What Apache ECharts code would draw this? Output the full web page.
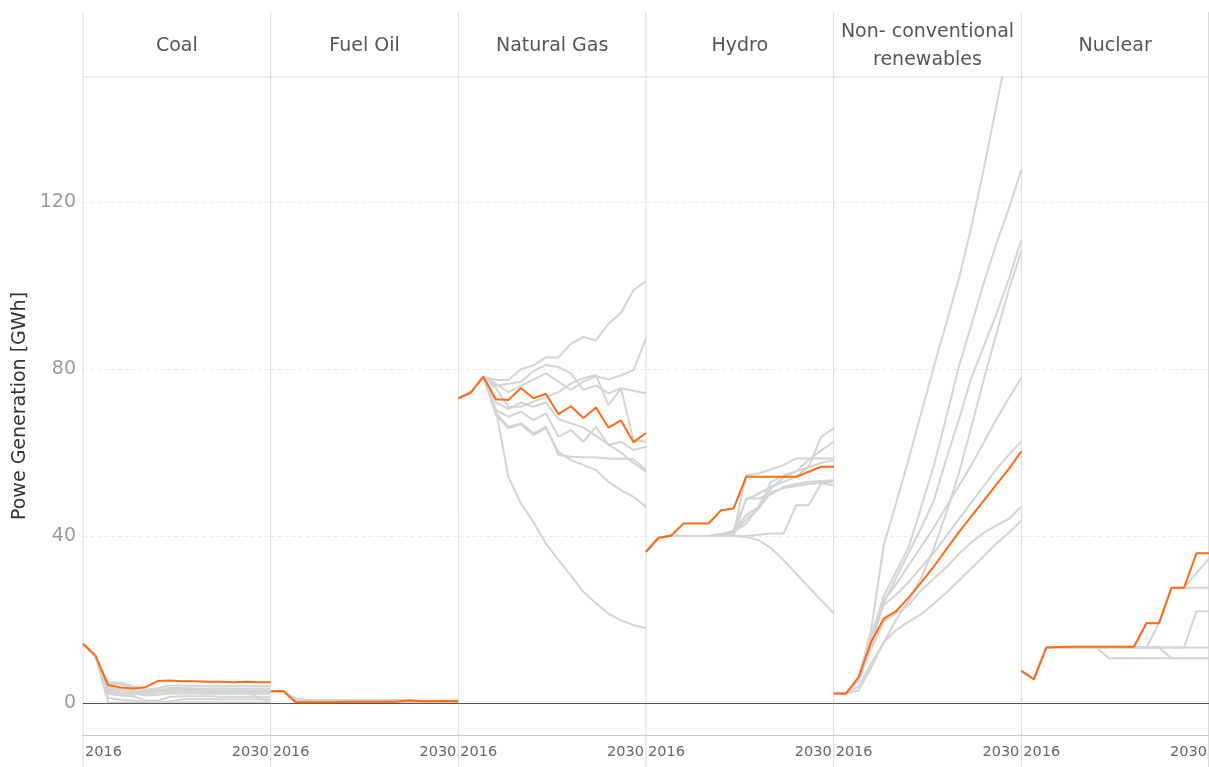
<!DOCTYPE html>
<html>
<head>
<meta charset="utf-8">
<script src="https://cdn.jsdelivr.net/npm/echarts@6/dist/echarts.min.js"></script>
<style>
html, body { margin: 0; padding: 0; background: #fff; }
#main { width: 1209px; height: 767px; }
</style>
</head>
<body>
<div id="main"></div>
<script>
// panel titles and axis labels
var panelNames = ['Coal', 'Fuel Oil', 'Natural Gas', 'Hydro', 'Non- conventional\nrenewables', 'Nuclear'];
var xTickLabels = ['2016', '2030'];
var yTickStep = 40;
var yAxisTitle = 'Powe Generation [GWh]';

// Coal
var coalSelected = [14.2, 11.3, 4.3, 3.7, 3.5, 3.8, 5.3, 5.4, 5.2, 5.2, 5.1, 5.1, 5.0, 5.1, 5.0, 5.0];
var coalScenarios = [
  [14.2, 11.3, 4.9, 4.9, 4.0, 3.2, 3.6, 4.2, 4.2, 4.1, 4.1, 4.0, 4.0, 4.0, 4.0, 4.0],
  [14.2, 11.3, 4.6, 4.5, 3.6, 2.8, 3.1, 3.6, 3.6, 3.5, 3.5, 3.5, 3.4, 3.4, 3.4, 3.4],
  [14.2, 11.3, 3.8, 3.3, 3.0, 2.2, 2.6, 3.0, 3.0, 3.0, 2.9, 2.9, 2.9, 2.9, 2.9, 2.9],
  [14.2, 11.3, 3.0, 2.6, 2.4, 1.8, 2.0, 2.3, 2.3, 2.3, 2.2, 2.2, 2.2, 2.2, 2.2, 2.2],
  [14.2, 11.3, 2.2, 1.8, 1.6, 0.6, 0.6, 1.5, 1.6, 1.6, 1.6, 1.5, 1.5, 1.5, 1.5, 1.5],
  [14.2, 11.3, 1.2, 0.8, 0.6, 0.2, 0.1, 0.4, 0.9, 0.9, 0.9, 0.9, 0.9, 0.9, 0.9, 0.9],
  [14.2, 11.3, 0.2, 0.1, 0.1, 0.1, 0.1, 0.1, 0.2, 0.2, 0.2, 0.2, 0.2, 0.2, 0.2, 0.2],
  [14.2, 11.3, 3.4, 3.1, 2.8, 2.6, 2.8, 3.2, 3.2, 3.1, 3.1, 3.0, 3.0, 3.0, 1.2, 0.2],
  [14.2, 11.3, 2.6, 2.2, 2.0, 2.4, 2.6, 2.7, 2.7, 2.6, 2.6, 2.6, 2.6, 2.6, 2.6, 2.6]
];

// Fuel Oil
var fuelOilSelected = [2.8, 2.9, 0.2, 0.2, 0.2, 0.2, 0.3, 0.3, 0.3, 0.3, 0.3, 0.6, 0.4, 0.4, 0.5, 0.4];
var fuelOilScenarios = [
  [2.8, 2.9, 1.0, 0.7, 0.7, 0.7, 0.7, 0.7, 0.7, 0.7, 0.7, 0.7, 0.6, 0.6, 0.6, 0.6],
  [2.8, 2.9, 0.7, 0.5, 0.5, 0.5, 0.5, 0.5, 0.5, 0.5, 0.5, 0.5, 0.5, 0.5, 0.5, 0.5],
  [2.8, 2.9, 0.4, 0.3, 0.3, 0.3, 0.3, 0.3, 0.3, 0.3, 0.3, 0.3, 0.3, 0.3, 0.3, 0.3],
  [2.8, 2.9, 0.2, 0.1, 0.1, 0.1, 0.1, 0.1, 0.1, 0.1, 0.1, 0.1, 0.1, 0.1, 0.1, 0.1]
];

// Natural Gas
var gasSelected = [73.0, 74.4, 78.2, 72.8, 72.6, 75.5, 73.0, 74.1, 69.2, 71.1, 68.3, 70.8, 66.0, 67.7, 62.5, 64.7];
var gasScenarios = [
  [73.0, 74.4, 78.2, 77.4, 77.4, 80.0, 80.9, 82.8, 82.8, 86.1, 87.7, 86.9, 90.9, 93.5, 98.9, 101.1],
  [73.0, 74.4, 78.2, 76.5, 74.5, 76.0, 77.5, 79.0, 77.0, 75.0, 77.0, 78.3, 77.5, 78.5, 79.8, 87.3],
  [73.0, 74.4, 78.2, 76.0, 76.5, 77.0, 79.5, 81.0, 80.5, 79.0, 75.0, 76.1, 74.2, 75.4, 74.8, 74.2],
  [73.0, 74.4, 78.2, 75.5, 71.0, 71.0, 72.2, 73.3, 74.5, 76.6, 77.8, 78.6, 71.4, 75.4, 63.0, 62.6],
  [73.0, 74.4, 78.2, 70.2, 68.6, 69.8, 67.8, 69.4, 63.8, 65.4, 62.6, 66.2, 61.8, 62.6, 60.6, 61.4],
  [73.0, 74.4, 78.2, 69.5, 66.2, 67.0, 64.6, 66.2, 59.4, 59.0, 58.9, 58.8, 58.6, 58.5, 58.4, 55.8],
  [73.0, 74.4, 78.2, 69.0, 65.8, 66.8, 64.2, 65.8, 60.2, 58.2, 57.0, 55.8, 53.0, 51.0, 49.4, 47.0],
  [73.0, 74.4, 78.2, 72.0, 70.5, 72.0, 71.0, 72.0, 68.0, 67.0, 66.0, 64.0, 62.0, 60.0, 57.5, 55.4],
  [73.0, 74.4, 78.2, 70.2, 54.2, 47.8, 43.4, 38.2, 34.3, 30.6, 26.6, 23.9, 21.4, 19.8, 18.7, 17.9]
];

// Hydro
var hydroSelected = [36.2, 39.6, 40.1, 43.0, 43.0, 43.0, 46.2, 46.6, 54.2, 54.2, 54.2, 54.2, 54.2, 55.4, 56.6, 56.6];
var hydroScenarios = [
  [36.2, 39.6, 40.1, 40.0, 40.0, 40.0, 40.0, 40.0, 39.8, 39.0, 37.1, 34.2, 31.0, 27.8, 24.6, 21.5],
  [36.2, 39.6, 40.1, 40.0, 40.0, 40.0, 40.5, 40.5, 54.5, 55.0, 56.0, 57.0, 58.6, 58.6, 58.6, 58.6],
  [36.2, 39.6, 40.1, 40.0, 40.0, 40.0, 40.2, 41.4, 48.6, 50.2, 51.8, 53.0, 54.2, 56.6, 63.8, 65.8],
  [36.2, 39.6, 40.1, 40.0, 40.0, 40.0, 40.5, 41.0, 43.0, 47.0, 53.0, 54.5, 55.5, 58.2, 60.5, 62.6],
  [36.2, 39.6, 40.1, 40.0, 40.0, 40.0, 40.0, 40.0, 49.0, 49.0, 50.0, 51.8, 52.5, 53.0, 53.2, 53.4],
  [36.2, 39.6, 40.1, 40.0, 40.0, 40.0, 40.0, 40.0, 40.0, 40.3, 40.6, 40.6, 47.4, 47.4, 52.6, 52.2],
  [36.2, 39.6, 40.1, 40.0, 40.0, 40.0, 40.3, 40.8, 44.0, 46.5, 50.5, 51.5, 52.0, 52.5, 52.8, 53.0],
  [36.2, 39.6, 40.1, 40.0, 40.0, 40.0, 40.0, 41.0, 45.0, 47.0, 51.5, 54.0, 55.5, 56.5, 57.5, 58.2]
];

// Non-conventional renewables
var ncreSelected = [2.3, 2.3, 6.2, 14.7, 20.2, 22.0, 25.3, 28.9, 32.7, 36.8, 40.9, 44.7, 48.5, 52.3, 56.1, 60.3];
var ncreScenarios = [
  [2.3, 2.3, 6.0, 17.5, 37.8, 48.0, 58.5, 69.5, 80.5, 91.0, 101.6, 114.0, 128.0, 143.0, 158.0, 173.0],
  [2.3, 2.3, 6.0, 16.0, 25.6, 31.5, 37.4, 47.0, 56.8, 68.5, 80.5, 90.5, 100.7, 110.0, 118.5, 127.8],
  [2.3, 2.3, 5.5, 14.0, 24.0, 30.0, 36.0, 42.0, 48.4, 58.5, 67.8, 77.9, 85.5, 93.1, 101.6, 110.9],
  [2.3, 2.3, 3.0, 8.5, 14.5, 20.0, 24.5, 30.0, 37.0, 45.5, 55.0, 66.0, 77.5, 88.5, 99.0, 108.3],
  [2.3, 2.3, 6.0, 15.0, 24.5, 28.5, 33.0, 37.5, 42.0, 47.0, 52.0, 57.0, 62.5, 68.0, 73.0, 77.9],
  [2.3, 2.3, 6.0, 15.5, 23.5, 26.0, 29.0, 32.5, 36.0, 40.0, 44.0, 48.0, 52.0, 56.0, 59.5, 62.7],
  [2.3, 2.3, 5.5, 13.0, 19.5, 21.5, 23.5, 27.0, 29.8, 32.5, 35.7, 38.5, 40.8, 42.5, 44.1, 47.1],
  [2.3, 2.3, 4.0, 9.5, 14.5, 17.5, 19.5, 21.3, 23.8, 26.4, 29.3, 32.3, 35.2, 38.2, 40.8, 43.7]
];

// Nuclear
var nuclearSelected = [7.7, 5.7, 13.3, 13.4, 13.5, 13.5, 13.5, 13.5, 13.5, 13.5, 19.1, 19.1, 27.6, 27.6, 35.9, 35.9];
var nuclearScenarios = [
  [7.7, 5.7, 13.3, 13.3, 13.3, 13.3, 13.3, 13.3, 13.3, 13.3, 13.3, 13.3, 13.3, 13.3, 13.3, 13.3],
  [7.7, 5.7, 13.3, 13.3, 13.3, 13.3, 13.3, 10.7, 10.7, 10.7, 10.7, 10.7, 10.7, 10.7, 10.7, 10.7],
  [7.7, 5.7, 13.3, 13.3, 13.3, 13.3, 13.3, 13.3, 13.3, 13.3, 13.3, 13.3, 10.7, 10.7, 10.7, 10.7],
  [7.7, 5.7, 13.3, 13.3, 13.3, 13.3, 13.3, 13.3, 13.3, 13.3, 13.3, 13.3, 13.3, 13.3, 22.0, 22.0],
  [7.7, 5.7, 13.3, 13.3, 13.3, 13.3, 13.3, 13.3, 13.3, 13.3, 13.3, 19.1, 27.6, 27.6, 27.6, 27.6],
  [7.7, 5.7, 13.3, 13.4, 13.5, 13.5, 13.5, 13.5, 13.5, 13.5, 19.1, 19.1, 27.6, 27.6, 31.1, 34.6]
];

var allSelected = [coalSelected, fuelOilSelected, gasSelected, hydroSelected, ncreSelected, nuclearSelected];
var allScenarios = [coalScenarios, fuelOilScenarios, gasScenarios, hydroScenarios, ncreScenarios, nuclearScenarios];

// layout (pixels)
var plotLeft = 83, plotRight = 1209;
var frameTop = 12, headerBottom = 77, zeroY = 703, axisY = 735, frameBottom = 767;
var panelW = (plotRight - plotLeft) / panelNames.length;

var grayColor = '#d4d4d4';
var orangeColor = '#ff6a14';
var fontFamily = '"DejaVu Sans", "Noto Sans", sans-serif';

function toPoints (values) {
  return values.map(function (v, i) { return [i, v]; });
}

var grids = [], xAxes = [], yAxes = [], series = [], graphics = [];

panelNames.forEach(function (name, p) {
  var left = plotLeft + p * panelW;
  grids.push({
    left: left, top: headerBottom, width: panelW, height: zeroY - headerBottom,
    containLabel: false, outerBoundsMode: 'none'
  });
  xAxes.push({
    gridIndex: p, type: 'value', min: 0, max: 15, interval: 15,
    offset: axisY - zeroY,
    axisLine: { onZero: false, lineStyle: { color: '#c8c8c8', width: 1 } },
    axisTick: { show: false },
    splitLine: { show: false },
    axisLabel: {
      color: '#666', fontSize: 14.5, fontFamily: fontFamily, margin: 10,
      alignMinLabel: 'left', alignMaxLabel: 'right', padding: [0, 2, 0, 2],
      formatter: function (v) { return v === 0 ? xTickLabels[0] : xTickLabels[1]; }
    }
  });
  yAxes.push({
    gridIndex: p, type: 'value', min: 0, max: 150, interval: yTickStep,
    axisLine: { show: false },
    axisTick: { show: false },
    splitLine: { lineStyle: { color: '#ebebeb', type: [4, 3], width: 1 } },
    axisLabel: {
      show: p === 0, color: '#9a9a9a', fontSize: 19, fontFamily: fontFamily, margin: 7,
      showMaxLabel: false
    }
  });

  // zero line
  series.push({
    type: 'line', xAxisIndex: p, yAxisIndex: p, data: [], silent: true,
    markLine: {
      silent: true, symbol: 'none', animation: false,
      label: { show: false },
      lineStyle: { color: '#555', type: 'solid', width: 1 },
      data: [{ yAxis: 0 }]
    }
  });

  allScenarios[p].forEach(function (vals) {
    series.push({
      type: 'line', xAxisIndex: p, yAxisIndex: p, data: toPoints(vals),
      symbol: 'none', silent: true, z: 3,
      lineStyle: { color: grayColor, width: 2 }
    });
  });
  series.push({
    type: 'line', xAxisIndex: p, yAxisIndex: p, data: toPoints(allSelected[p]),
    symbol: 'none', silent: true, z: 5,
    lineStyle: { color: orangeColor, width: 2 }
  });

  // header text
  graphics.push({
    type: 'text', x: left + panelW / 2, y: (frameTop + headerBottom) / 2 + 2,
    style: {
      text: name, fill: '#555', font: '19px ' + fontFamily,
      align: 'center', verticalAlign: 'middle', lineHeight: 28
    }
  });
});

// panel frame lines
for (var k = 0; k <= panelNames.length; k++) {
  var x = Math.min(plotLeft + k * panelW, plotRight - 0.5);
  graphics.push({
    type: 'line', silent: true, z: 0,
    shape: { x1: x, y1: frameTop, x2: x, y2: frameBottom },
    style: { stroke: '#dadada', lineWidth: 1 }
  });
}
graphics.push({
  type: 'line', silent: true, z: 0,
  shape: { x1: plotLeft, y1: headerBottom, x2: plotRight, y2: headerBottom },
  style: { stroke: '#dadada', lineWidth: 1 }
});
graphics.push({
  type: 'text', x: 20, y: (headerBottom + axisY) / 2, rotation: Math.PI / 2,
  style: {
    text: yAxisTitle, fill: '#333', font: '19px ' + fontFamily,
    align: 'center', verticalAlign: 'middle'
  }
});

var myChart = echarts.init(document.getElementById('main'));
myChart.setOption({
  animation: false,
  backgroundColor: '#fff',
  grid: grids,
  xAxis: xAxes,
  yAxis: yAxes,
  series: series,
  graphic: graphics
});
</script>
</body>
</html>
